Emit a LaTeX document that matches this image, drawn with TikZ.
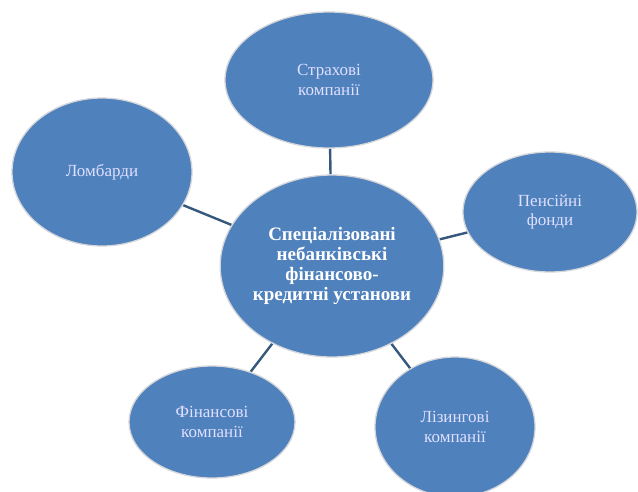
\documentclass[tikz,border=0pt]{standalone}
\usepackage{fontspec}
\setmainfont{Liberation Serif}
\usepackage{tikz}
\usetikzlibrary{shapes.geometric}
\pgfdeclarelayer{background}
\pgfsetlayers{background,main}
\definecolor{officeblue}{HTML}{4F81BD}
\definecolor{linkblue}{HTML}{36587C}
\definecolor{rimgray}{HTML}{D4D6DA}
\tikzstyle{bubble}=[ellipse, fill=officeblue, draw=rimgray
,line width=1.3pt
,inner sep=0pt
,align=center
,text=white!88!blue
,font=\fontsize{17}{19.5}\selectfont
]
\tikzstyle{hub bubble} = [bubble, font=\fontsize{19}{20}\selectfont\bfseries, text=white]
\tikzstyle{edge} = [draw,line width=2.4pt,linkblue,-]

\begin{document}
\begin{tikzpicture}[x=1pt,y=-1pt]
    \useasboundingbox (0,0) rectangle (638,491);
    % The hub in the middle
    \node[hub bubble, minimum width=220pt, minimum height=182pt] (hub) at (332,266)
        {Спеціалізовані\\небанківські\\фінансово-\\кредитні установи};

    % Then the institutions around it
    \foreach \pos/\name/\w/\h/\label in {
        {(329,80)/insur/208/136/Страхові\\компанії},
        {(550,212)/pens/174/120/Пенсійні\\фонди},
        {(102,172)/pawn/180/148/Ломбарди},
        {(212,422)/fin/166/112/Фінансові\\компанії},
        {(455,427)/lease/160/140/Лізингові\\компанії}}
        \node[bubble, minimum width=\w pt, minimum height=\h pt] (\name) at \pos {\label};

    % Connect the hub with the institutions
    \begin{pgfonlayer}{background}
    \foreach \dest in {insur, pens, pawn, fin, lease}
        \path[edge] (hub) -- (\dest) ;
    \end{pgfonlayer}
\end{tikzpicture}
\end{document}
